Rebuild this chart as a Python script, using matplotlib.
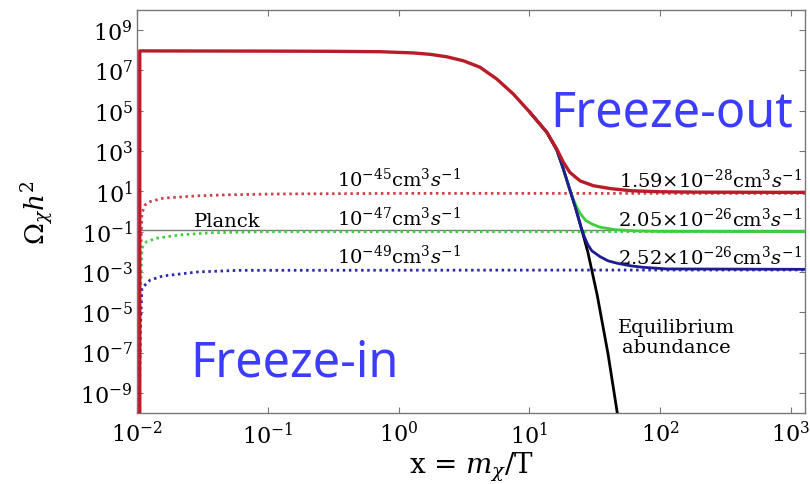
import numpy as np
import matplotlib
matplotlib.use("Agg")
import matplotlib.pyplot as plt

plt.rcParams['mathtext.fontset'] = 'dejavuserif'
plt.rcParams['font.family'] = ['DejaVu Serif']

# ---- data (y given as log10) ----
red_x = [0.0105, 0.0105, 0.1, 0.3, 0.72, 0.966, 1.29, 1.74, 2.33, 3.13, 4.19, 5.62, 7.54,
         10.1, 13.6, 16.2, 18.2, 20.4, 24.4, 30.8, 41.3, 60.0, 100.0, 200.0, 1280.0]
red_logy = [-10.0, 7.97, 7.96, 7.95, 7.93, 7.90, 7.87, 7.80, 7.68, 7.48, 7.16, 6.58, 5.83,
            4.92, 3.93, 3.10, 2.44, 1.94, 1.52, 1.28, 1.14, 1.03, 0.98, 0.96, 0.95]

eq_x = [10.1, 13.6, 16.2, 18.0, 20.4, 22.5, 25.0, 28.0, 33.0, 40.0, 47.0]
eq_logy = [4.92, 3.93, 3.05, 2.2, 1.07, 0.2, -0.85, -2.02, -4.15, -7.1, -10.0]

green_x = [10.1, 13.6, 16.2, 18.0, 20.4, 22.5, 24.4, 27.0, 30.0, 34.7, 45.0, 62.0, 100.0, 1280.0]
green_logy = [4.92, 3.93, 3.05, 2.2, 1.07, 0.35, -0.09, -0.45, -0.62, -0.78, -0.9, -0.96, -0.99, -1.0]

blue_x = [10.1, 13.6, 16.2, 18.0, 20.4, 22.5, 25.0, 26.5, 28.0, 30.0, 34.7, 40.0, 47.0, 60.0,
          74.0, 112.0, 1280.0]
blue_logy = [4.92, 3.93, 3.05, 2.2, 1.07, 0.2, -0.85, -1.3, -1.65, -1.95, -2.24, -2.45, -2.57,
             -2.7, -2.77, -2.85, -2.87]

fi_red_x = [0.0104, 0.0106, 0.0109, 0.0115, 0.0126, 0.0158, 0.029, 0.051, 0.117, 1.0, 1280.0]
fi_red_logy = [-10.0, -3.0, -0.09, 0.32, 0.49, 0.66, 0.78, 0.83, 0.87, 0.9, 0.9]

fi_green_x = [0.0104, 0.0106, 0.0109, 0.0118, 0.0141, 0.0213, 0.038, 0.1, 1280.0]
fi_green_logy = [-10.0, -4.5, -1.82, -1.5, -1.33, -1.16, -1.05, -1.0, -1.0]

fi_blue_x = [0.0104, 0.0106, 0.0109, 0.0126, 0.0158, 0.029, 0.06, 1280.0]
fi_blue_logy = [-10.0, -6.0, -3.8, -3.4, -3.2, -3.0, -2.92, -2.9]

planck = 0.12

xticks = [1e-2, 1e-1, 1e0, 1e1, 1e2, 1e3]
xticklabels = [r'$10^{-2}$', r'$10^{-1}$', r'$10^{0}$', r'$10^{1}$', r'$10^{2}$', r'$10^{3}$']
yticks = [1e-9, 1e-7, 1e-5, 1e-3, 1e-1, 1e1, 1e3, 1e5, 1e7, 1e9]
yticklabels = [r'$10^{-9}$', r'$10^{-7}$', r'$10^{-5}$', r'$10^{-3}$', r'$10^{-1}$',
               r'$10^{1}$', r'$10^{3}$', r'$10^{5}$', r'$10^{7}$', r'$10^{9}$']

# ---- figure ----
fig = plt.figure(figsize=(8.1, 4.85), dpi=100)
ax = fig.add_axes([137/810, 1-414/485, (805-137)/810, (414-11)/485])

c_red = '#b81c28'
c_red_dot = '#d0404c'
c_green = '#3ccf3c'
c_blue = '#1c1c96'
c_blue_dot = '#2a2aa8'

def p(v):
    return 10 ** np.asarray(v)

ax.axhline(planck, color='#777777', lw=1.0, zorder=1)

dot = (0, (0.9, 1.3))
ax.plot(fi_red_x, p(fi_red_logy), color=c_red_dot, lw=2.0, ls=dot, zorder=2)
ax.plot(fi_green_x, p(fi_green_logy), color=c_green, lw=2.0, ls=dot, zorder=2)
ax.plot(fi_blue_x, p(fi_blue_logy), color=c_blue_dot, lw=2.0, ls=dot, zorder=2)

ax.plot(eq_x, p(eq_logy), color='black', lw=2.0, zorder=3)
ax.plot(green_x, p(green_logy), color=c_green, lw=2.0, zorder=4)
ax.plot(blue_x, p(blue_logy), color=c_blue, lw=2.0, zorder=5)
ax.plot(red_x, p(red_logy), color=c_red, lw=2.4, zorder=6)

ax.set_xscale('log')
ax.set_yscale('log')
ax.set_xlim(0.01, 1280)
ax.set_ylim(1e-10, 1e10)
ax.set_xticks(xticks)
ax.set_xticklabels(xticklabels)
ax.set_yticks(yticks)
ax.set_yticklabels(yticklabels)
ax.minorticks_off()
ax.tick_params(which='major', direction='in', length=4, width=0.8, color='#777777',
               top=True, right=True, labelsize=16)
ax.tick_params(axis='x', pad=6)
ax.tick_params(axis='y', pad=3)
for s in ax.spines.values():
    s.set_color('#777777')
    s.set_linewidth(1.0)

ax.set_xlabel(r'x = $m_\chi$/T', fontsize=20, labelpad=1)
ax.set_ylabel(r'$\Omega_\chi h^2$', fontsize=19, labelpad=17)

tfs = 14
ax.text(1.0, 10**1.27, r'$10^{-45}\mathrm{cm}^3s^{-1}$', fontsize=tfs, ha='center', va='baseline')
ax.text(1.0, 10**-0.67, r'$10^{-47}\mathrm{cm}^3s^{-1}$', fontsize=tfs, ha='center', va='baseline')
ax.text(1.0, 10**-2.56, r'$10^{-49}\mathrm{cm}^3s^{-1}$', fontsize=tfs, ha='center', va='baseline')
ax.text(0.0487, 10**-0.70, 'Planck', fontsize=14, ha='center', va='baseline')

ax.text(1213, 10**1.22, r'$1.59{\times}10^{-28}\mathrm{cm}^3s^{-1}$', fontsize=tfs, ha='right', va='baseline')
ax.text(1213, 10**-0.70, r'$2.05{\times}10^{-26}\mathrm{cm}^3s^{-1}$', fontsize=tfs, ha='right', va='baseline')
ax.text(1213, 10**-2.60, r'$2.52{\times}10^{-26}\mathrm{cm}^3s^{-1}$', fontsize=tfs, ha='right', va='baseline')

ax.text(134, 10**-5.98, 'Equilibrium', fontsize=14, ha='center', va='baseline')
ax.text(134, 10**-6.95, 'abundance', fontsize=14, ha='center', va='baseline')

blue_txt = '#3c3cff'
fig.text(550/810, 1-127/485, 'Freeze-out', fontsize=35, color=blue_txt,
         family=['Noto Sans', 'DejaVu Sans'], ha='left', va='baseline')
fig.text(190/810, 1-377/485, 'Freeze-in', fontsize=35, color=blue_txt,
         family=['Noto Sans', 'DejaVu Sans'], ha='left', va='baseline')

fig.savefig('out.png', dpi=100, facecolor='white')
